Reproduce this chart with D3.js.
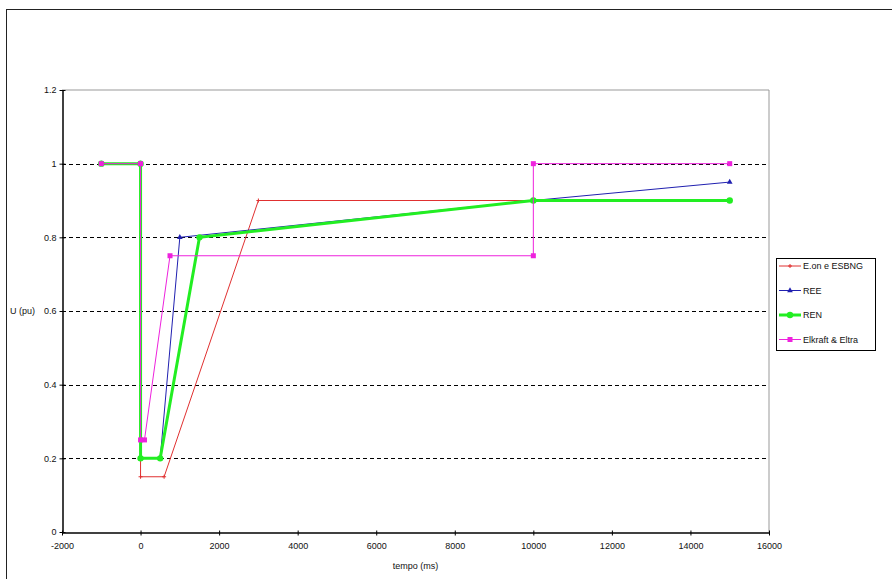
<!DOCTYPE html>
<html><head><meta charset="utf-8">
<script src="https://cdn.jsdelivr.net/npm/d3@7"></script>
<style>body{margin:0;background:#fff}svg{display:block}text{font-family:"Liberation Sans",Arial,sans-serif}</style>
</head><body>
<script>
const seriesNames = ["E.on e ESBNG", "REE", "REN", "Elkraft & Eltra"];
const seriesColors = ["#e03030", "#2020b0", "#22ee22", "#ee22dd"];
const eonT = [-1000, 0, 0, 600, 3000, 10000, 15000];
const eonU = [1, 1, 0.15, 0.15, 0.9, 0.9, 0.9];
const reeT = [-1000, 0, 0, 500, 1000, 10000, 15000];
const reeU = [1, 1, 0.2, 0.2, 0.8, 0.9, 0.95];
const renT = [-1000, 0, 0, 500, 1500, 10000, 15000];
const renU = [1, 1, 0.2, 0.2, 0.8, 0.9, 0.9];
const elkT = [-1000, 0, 0, 100, 750, 10000, 10000, 15000];
const elkU = [1, 1, 0.25, 0.25, 0.75, 0.75, 1, 1];
const xTicks = [-2000, 0, 2000, 4000, 6000, 8000, 10000, 12000, 14000, 16000];
const yTicks = [0, 0.2, 0.4, 0.6, 0.8, 1, 1.2];
const xTitle = "tempo (ms)";
const yTitle = "U (pu)";

const W = 892, H = 579;
const svg = d3.select("body").append("svg").attr("width", W).attr("height", H);
svg.append("rect").attr("x", 6.5).attr("y", 9.5).attr("width", 900).attr("height", 600)
  .attr("fill", "none").attr("stroke", "#222").attr("stroke-width", 1);

const x = d3.scaleLinear().domain([-2000, 16000]).range([62, 769]);
const y = d3.scaleLinear().domain([0, 1.2]).range([532, 90]);

svg.append("path").attr("d", `M${x(-2000)},${y(1.2)}H${x(16000)}V${y(0)}`)
  .attr("fill", "none").attr("stroke", "#999").attr("stroke-width", 1);

svg.append("g").selectAll("line").data(yTicks.filter(v => v > 0 && v < 1.2)).join("line")
  .attr("x1", x(-2000)).attr("x2", x(16000))
  .attr("y1", d => Math.round(y(d)) + 0.5).attr("y2", d => Math.round(y(d)) + 0.5)
  .attr("stroke", "#000").attr("stroke-dasharray", "4,3").attr("stroke-width", 1);

const xa = svg.append("g").attr("transform", `translate(0,${Math.round(y(0)) + 0.5})`)
  .call(d3.axisBottom(x).tickValues(xTicks).tickFormat(d => String(d)).tickSize(4).tickSizeOuter(0));
const ya = svg.append("g").attr("transform", `translate(${Math.round(x(-2000)) + 0.5},0)`)
  .call(d3.axisLeft(y).tickValues(yTicks).tickFormat(d => String(+d.toFixed(1))).tickSize(4).tickSizeOuter(0));
[xa, ya].forEach(g => {
  g.select(".domain").attr("stroke", "#000").attr("stroke-width", 1.5);
  g.selectAll(".tick line").attr("stroke", "#000");
  g.selectAll("text").attr("font-size", 9).attr("fill", "#111").attr("font-family", "Liberation Sans, Arial, sans-serif");
});
xa.selectAll(".tick line").attr("y1", -2).attr("y2", 3);
xa.selectAll("text").attr("dy", "1.1em");
ya.selectAll(".tick line").attr("x1", -3).attr("x2", 3);
ya.selectAll("text").attr("x", -6);

svg.append("text").attr("x", (x(-2000) + x(16000)) / 2).attr("y", 569).attr("text-anchor", "middle")
  .attr("font-size", 9).attr("fill", "#111").text(xTitle);
svg.append("text").attr("x", 10).attr("y", y(0.6) + 3).attr("font-size", 9).attr("fill", "#111").text(yTitle);

const series = [
  {t: eonT, u: eonU, w: 1, m: "plus"},
  {t: reeT, u: reeU, w: 1, m: "tri"},
  {t: renT, u: renU, w: 3, m: "circle"},
  {t: elkT, u: elkU, w: 1, m: "square"}
];
const line = d3.line().x(d => x(d[0])).y(d => y(d[1]));
function marker(g, type, cx, cy, c) {
  if (type === "plus") g.append("path").attr("d", `M${cx-2},${cy}H${cx+2}M${cx},${cy-2}V${cy+2}`).attr("stroke", c).attr("stroke-width", 1);
  else if (type === "tri") g.append("path").attr("d", d3.symbol(d3.symbolTriangle, 14)()).attr("transform", `translate(${cx},${cy})`).attr("fill", c);
  else if (type === "circle") g.append("circle").attr("cx", cx).attr("cy", cy).attr("r", 3.2).attr("fill", c);
  else g.append("rect").attr("x", cx - 2.5).attr("y", cy - 2.5).attr("width", 5).attr("height", 5).attr("fill", c);
}
series.forEach((s, i) => {
  const pts = s.t.map((t, k) => [t, s.u[k]]);
  const g = svg.append("g");
  g.append("path").attr("d", line(pts)).attr("fill", "none").attr("stroke", seriesColors[i]).attr("stroke-width", s.w);
  pts.forEach(p => marker(g, s.m, x(p[0]), y(p[1]), seriesColors[i]));
});

const lg = svg.append("g");
lg.append("rect").attr("x", 776.5).attr("y", 258.5).attr("width", 99).attr("height", 92)
  .attr("fill", "#fff").attr("stroke", "#000");
seriesNames.forEach((n, i) => {
  const ly = 266 + i * 24.5;
  lg.append("line").attr("x1", 779).attr("x2", 801).attr("y1", ly).attr("y2", ly)
    .attr("stroke", seriesColors[i]).attr("stroke-width", series[i].w);
  marker(lg, series[i].m, 790, ly, seriesColors[i]);
  lg.append("text").attr("x", 803).attr("y", ly + 3).attr("font-size", 9).attr("fill", "#111").text(n);
});
</script>
</body></html>
